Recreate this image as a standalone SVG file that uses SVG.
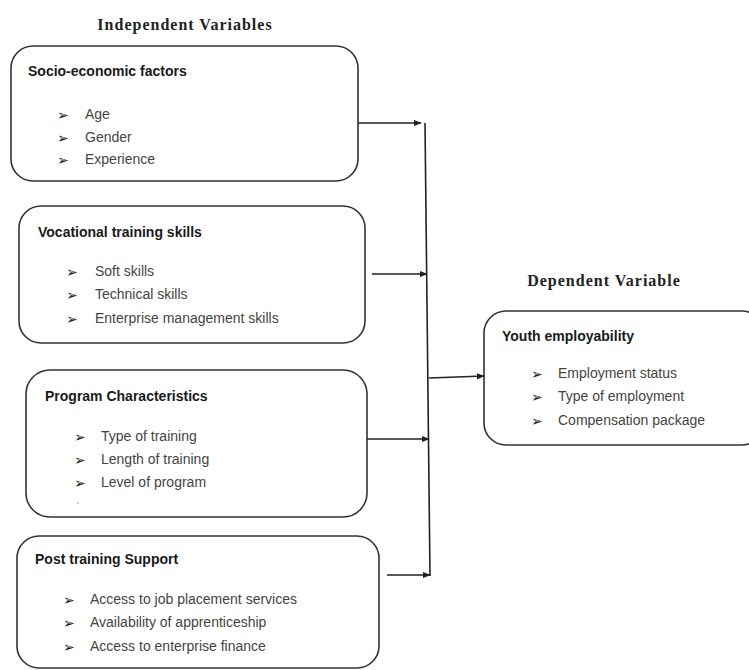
<svg xmlns="http://www.w3.org/2000/svg" width="749" height="670" viewBox="0 0 749 670">
<style>
.box{fill:#fff;stroke:#333;stroke-width:1.6}
.hdr{font-family:"Liberation Serif",serif;font-weight:bold;font-size:16px;letter-spacing:1px;fill:#222}
.ttl{font-family:"Liberation Sans",Arial,sans-serif;font-weight:bold;font-size:14px;fill:#1a1a1a}
.itm{font-family:"Liberation Sans",Arial,sans-serif;font-size:14px;fill:#444}
.bul{font-family:"DejaVu Sans",sans-serif;font-size:14px;fill:#222}
.ln{stroke:#222;stroke-width:1.6;fill:none}
</style>
<defs>
<marker id="ah" viewBox="0 0 10 10" refX="9" refY="5" markerWidth="8" markerHeight="8" markerUnits="userSpaceOnUse" orient="auto">
<path d="M0,1 L10,5 L0,9 z" fill="#222"/>
</marker>
</defs>
<rect width="749" height="670" fill="#fff"/>
<text class="hdr" x="185" y="30" text-anchor="middle">Independent Variables</text>
<text class="hdr" x="604" y="286" text-anchor="middle">Dependent Variable</text>

<g id="socio">
<rect class="box" x="11" y="46" width="347" height="135" rx="22"/>
<text class="ttl" x="28" y="76">Socio-economic factors</text>
<text class="bul" x="57" y="120">➢</text><text class="itm" x="85" y="119">Age</text>
<text class="bul" x="57" y="143">➢</text><text class="itm" x="85" y="142">Gender</text>
<text class="bul" x="57" y="165">➢</text><text class="itm" x="85" y="164">Experience</text>
</g>

<g id="vocational">
<rect class="box" x="19" y="206" width="346" height="137" rx="22"/>
<text class="ttl" x="38" y="237">Vocational training skills</text>
<text class="bul" x="66" y="277">➢</text><text class="itm" x="95" y="276">Soft skills</text>
<text class="bul" x="66" y="300">➢</text><text class="itm" x="95" y="299">Technical skills</text>
<text class="bul" x="66" y="324">➢</text><text class="itm" x="95" y="323">Enterprise management skills</text>
</g>

<g id="program">
<rect class="box" x="26" y="370" width="341" height="147" rx="24"/>
<text class="ttl" x="45" y="401">Program Characteristics</text>
<text class="bul" x="74" y="442">➢</text><text class="itm" x="101" y="441">Type of training</text>
<text class="bul" x="74" y="465">➢</text><text class="itm" x="101" y="464">Length of training</text>
<text class="bul" x="74" y="488">➢</text><text class="itm" x="101" y="487">Level of program</text>
<circle cx="78" cy="503" r="1" fill="#bbb"/>
</g>

<g id="support">
<rect class="box" x="17" y="536" width="362" height="132" rx="22"/>
<text class="ttl" x="35" y="564">Post training Support</text>
<text class="bul" x="63" y="605">➢</text><text class="itm" x="90" y="604">Access to job placement services</text>
<text class="bul" x="63" y="628">➢</text><text class="itm" x="90" y="627">Availability of apprenticeship</text>
<text class="bul" x="63" y="652">➢</text><text class="itm" x="90" y="651">Access to enterprise finance</text>
</g>

<g id="youth">
<rect class="box" x="484" y="311" width="280" height="134" rx="22"/>
<text class="ttl" x="502" y="341">Youth employability</text>
<text class="bul" x="531" y="379">➢</text><text class="itm" x="558" y="378">Employment status</text>
<text class="bul" x="531" y="402">➢</text><text class="itm" x="558" y="401">Type of employment</text>
<text class="bul" x="531" y="426">➢</text><text class="itm" x="558" y="425">Compensation package</text>
</g>

<g id="connectors">
<line class="ln" x1="425" y1="123" x2="430" y2="576"/>
<line class="ln" x1="358" y1="123" x2="421" y2="123" marker-end="url(#ah)"/>
<line class="ln" x1="372" y1="274" x2="427" y2="274" marker-end="url(#ah)"/>
<line class="ln" x1="367" y1="439" x2="429" y2="439" marker-end="url(#ah)"/>
<line class="ln" x1="387" y1="575" x2="430" y2="575" marker-end="url(#ah)"/>
<line class="ln" x1="429" y1="378" x2="484" y2="376" marker-end="url(#ah)"/>
</g>
</svg>
